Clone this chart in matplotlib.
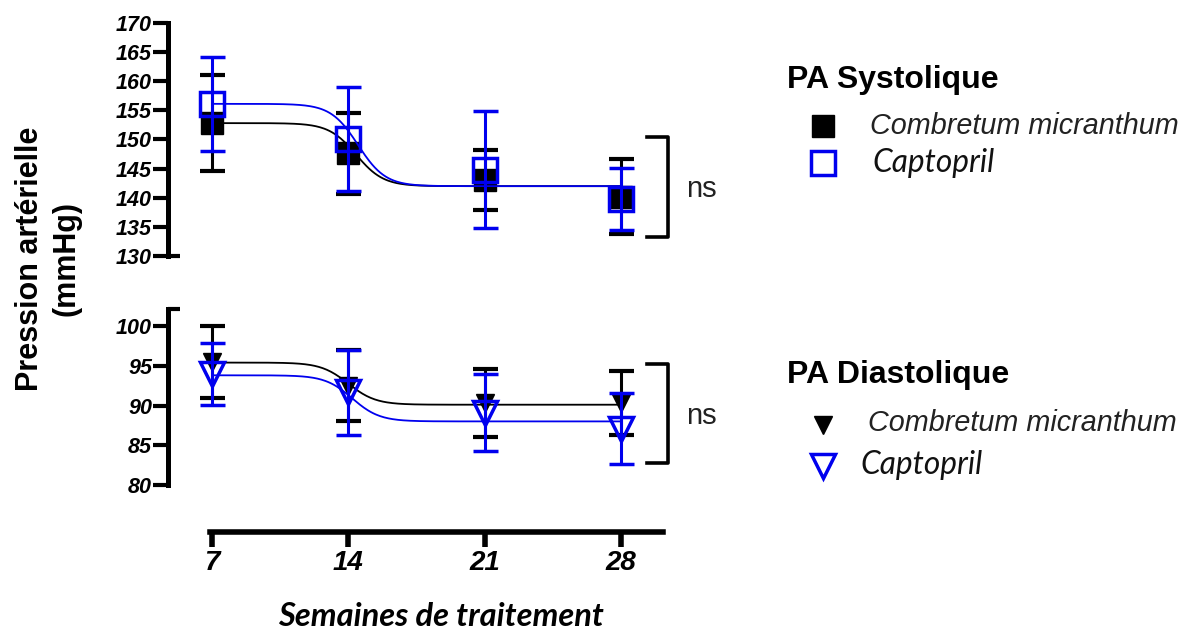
import numpy as np
import matplotlib
matplotlib.use("Agg")
import matplotlib.pyplot as plt
from matplotlib.lines import Line2D
import matplotlib.transforms as mtransforms

plt.rcParams['font.family'] = ['Liberation Sans', 'DejaVu Sans']

W, H = 1189, 635

def fx(px):
    return px / W

def fy(py):
    return 1 - py / H

# data (weeks of treatment)
days = [7, 14, 21, 28]

# PA systolique
sys_cm = [152.8, 147.6, 143.1, 140.2]
sys_cm_err = [8.2, 7.0, 5.15, 6.4]
sys_cap = [156.15, 150.05, 144.8, 139.8]
sys_cap_err = [8.05, 8.85, 10.0, 5.3]

# PA diastolique
dia_cm = [95.5, 92.5, 90.3, 90.3]
dia_cm_err = [4.5, 4.5, 4.3, 4.0]
dia_cap = [93.95, 91.65, 89.1, 87.1]
dia_cap_err = [3.85, 5.35, 4.8, 4.5]

# sigmoid fit parameters: top, bottom, x50, slope
fit_sys_cm = [152.8, 142.0, 14.4, 0.7]
fit_sys_cap = [156.1, 142.0, 14.5, 0.7]
fit_dia_cm = [95.4, 90.1, 14.0, 0.7]
fit_dia_cap = [93.8, 88.0, 14.2, 0.7]

blue = '#0000ee'


def sigmoid(x, p):
    top, bottom, x50, s = p
    return bottom + (top - bottom) / (1 + np.exp((x - x50) / s))


fig = plt.figure(figsize=(W / 100, H / 100), dpi=100)

px_per_day = (621 - 212) / 21
xmin = 7 - (212 - 168) / px_per_day
xmax = 7 + (663 - 212) / px_per_day

ax1 = fig.add_axes([fx(168), fy(256.2), (663 - 168) / W, (256.2 - 22.7) / H])
ax2 = fig.add_axes([fx(168), fy(485), (663 - 168) / W, (485 - 309.3) / H])

xs = np.linspace(7, 28, 300)

# systolic
ax1.errorbar(days, sys_cm, yerr=sys_cm_err, fmt='s', color='black', ms=16,
             elinewidth=2.2, capsize=9, capthick=3, zorder=2)
ax1.plot(xs, sigmoid(xs, fit_sys_cm), color='black', lw=1.3, zorder=3)
ax1.errorbar(days, sys_cap, yerr=sys_cap_err, fmt='s', color=blue, ms=17,
             mfc='none', mec=blue, mew=2.5, elinewidth=2.2, capsize=9, capthick=3, zorder=4)
ax1.plot(xs, sigmoid(xs, fit_sys_cap), color=blue, lw=1.3, zorder=5)
ax1.set_ylim(130, 170)
ax1.set_yticks(np.arange(130, 171, 5))

# diastolic
ax2.errorbar(days, dia_cm, yerr=dia_cm_err, fmt='v', color='black', ms=13,
             elinewidth=2.2, capsize=9, capthick=3, zorder=2)
ax2.plot(xs, sigmoid(xs, fit_dia_cm), color='black', lw=1.3, zorder=3)
ax2.errorbar(days, dia_cap, yerr=dia_cap_err, fmt='v', color=blue, ms=17,
             mfc='none', mec=blue, mew=2.5, elinewidth=2.2, capsize=9, capthick=3, zorder=4)
ax2.plot(xs, sigmoid(xs, fit_dia_cap), color=blue, lw=1.3, zorder=5)
ax2.set_ylim(80, 80 + (485 - 309.3) / 7.95)
ax2.set_yticks([80, 85, 90, 95, 100])

for ax in (ax1, ax2):
    ax.set_xlim(xmin, xmax)
    for s in ('top', 'right'):
        ax.spines[s].set_visible(False)
    ax.spines['left'].set_linewidth(3.6)
    ax.tick_params(axis='y', direction='out', length=11, width=3, labelsize=15.5, pad=0.5)
    for lab in ax.get_yticklabels():
        lab.set_fontweight('bold')
        lab.set_fontstyle('italic')

ax1.spines['bottom'].set_visible(False)
ax1.set_xticks([])

# small caps at the open ends of the y axes
tr1 = mtransforms.blended_transform_factory(ax1.transAxes, ax1.transData)
ax1.plot([0, 12 / 495], [130, 130], transform=tr1, color='black', lw=3,
         solid_capstyle='butt', clip_on=False)
tr2 = mtransforms.blended_transform_factory(ax2.transAxes, ax2.transData)
ytop = ax2.get_ylim()[1]
ax2.plot([0, 12 / 495], [ytop, ytop], transform=tr2, color='black', lw=3,
         solid_capstyle='butt', clip_on=False)

# shared x axis below the diastolic panel
ax2.spines['bottom'].set_position(('outward', 33.6))
ax2.spines['bottom'].set_linewidth(4)
ax2.spines['bottom'].set_bounds(7 - 2 / px_per_day, xmax)
ax2.set_xticks(days)
ax2.tick_params(axis='x', direction='out', length=11, width=4, labelsize=20, pad=2.5)
for lab in ax2.get_xticklabels():
    lab.set_fontweight('bold')
    lab.set_fontstyle('italic')

# axis titles
fig.text(fx(48), fy(259), 'Pression artérielle\n(mmHg)', rotation=90, ha='center',
         va='center', fontsize=22, fontweight='bold', linespacing=1.3)
fig.text(fx(441), fy(617), 'Semaines de traitement', ha='center', va='center',
         fontsize=23.5, fontweight='bold', fontstyle='italic', family=['Lato', 'DejaVu Sans'])

# ns brackets
for y0, y1 in [(137, 237), (364, 463.3)]:
    fig.add_artist(Line2D([fx(647), fx(668), fx(668), fx(647)], [fy(y0), fy(y0), fy(y1), fy(y1)],
                          color='black', lw=2.6, transform=fig.transFigure))
    fig.text(fx(686), fy((y0 + y1) / 2 + 2), 'ns', ha='left', va='center', fontsize=21, color='#222222')

# legends
fig.text(fx(787), fy(88), 'PA Systolique', ha='left', va='baseline', fontsize=23, fontweight='bold')
fig.add_artist(Line2D([fx(823)], [fy(126)], marker='s', ms=16, color='black', transform=fig.transFigure))
fig.text(fx(870), fy(126), 'Combretum micranthum', ha='left', va='center', fontsize=20.7,
         fontstyle='italic', color='#222222')
fig.add_artist(Line2D([fx(823)], [fy(163)], marker='s', ms=17, mfc='none', mec=blue, mew=2.5,
                      transform=fig.transFigure))
fig.text(fx(872), fy(163), 'Captopril', ha='left', va='center', fontsize=22.8,
         fontstyle='italic', color='#111111', family=['Lato', 'DejaVu Sans'])

fig.text(fx(787), fy(383), 'PA Diastolique', ha='left', va='baseline', fontsize=23, fontweight='bold')
fig.add_artist(Line2D([fx(823)], [fy(425)], marker='v', ms=13, color='black', transform=fig.transFigure))
fig.text(fx(868), fy(423), 'Combretum micranthum', ha='left', va='center', fontsize=20.7,
         fontstyle='italic', color='#222222')
fig.add_artist(Line2D([fx(823)], [fy(466)], marker='v', ms=17, mfc='none', mec=blue, mew=2.5,
                      transform=fig.transFigure))
fig.text(fx(860), fy(465), 'Captopril', ha='left', va='center', fontsize=22.8,
         fontstyle='italic', color='#111111', family=['Lato', 'DejaVu Sans'])

fig.savefig('out.png', dpi=100)
